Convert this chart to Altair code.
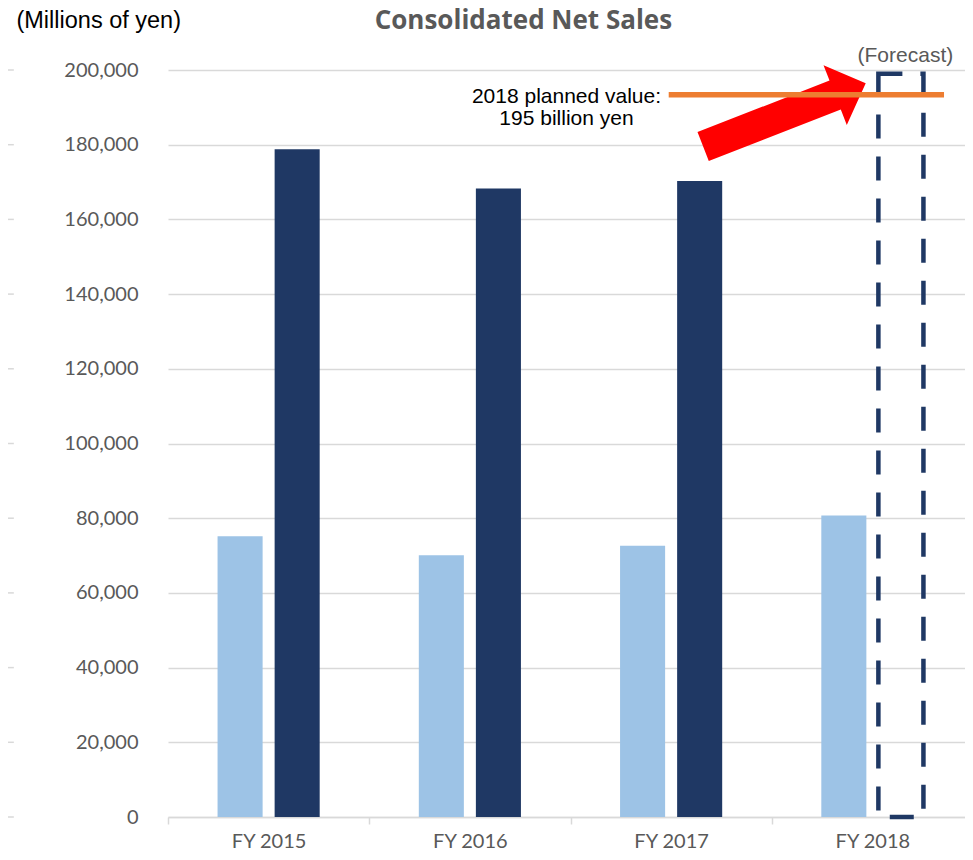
import altair as alt
import pandas as pd

# ---- data ----
years = ["FY 2015", "FY 2016", "FY 2017", "FY 2018"]
series_names = ["A", "B"]
series_a = [75200, 70100, 72600, 80700]          # light blue bars
series_b = [178800, 168300, 170300, None]         # dark navy bars
forecast_year = "FY 2018"
forecast_top = 199000                             # dashed forecast outline
planned_value = 193400                            # orange line level (2018 plan)
y_ticks = [0, 20000, 40000, 60000, 80000, 100000, 120000, 140000, 160000, 180000, 200000]

LIGHT = "#9DC3E6"
DARK = "#1F3864"
GRID = "#D9D9D9"
LABEL = "#595959"

rows = []
for i, yr in enumerate(years):
    if series_a[i] is not None:
        rows.append({"year": yr, "series": "A", "value": series_a[i]})
    if series_b[i] is not None:
        rows.append({"year": yr, "series": "B", "value": series_b[i]})
bars_df = pd.DataFrame(rows)
forecast_df = pd.DataFrame([{"year": forecast_year, "series": "B", "value": forecast_top}])

# annotation positions in "category units" across the chart (0..4)
notes_df = pd.DataFrame([
    {"u": 1.980, "v": 192700, "text": "2018 planned value:"},
    {"u": 1.980, "v": 187000, "text": "195 billion yen"},
])
forecast_lbl_df = pd.DataFrame([{"u": 3.664, "v": 203700, "text": "(Forecast)"}])
units_lbl_df = pd.DataFrame([{"u": -0.753, "v": 213100, "text": "(Millions of yen)"}])
title_df = pd.DataFrame([{"u": 1.766, "v": 213000, "text": "Consolidated Net Sales"}])
plan_df = pd.DataFrame([{"u1": 2.488, "u2": 3.856, "v": planned_value}])
arrow_df = pd.DataFrame([{"u": 3.063, "v": 188000}])
stub_df = pd.DataFrame({"v": y_ticks, "u1": [-0.796] * len(y_ticks), "u2": [-0.766] * len(y_ticks)})

W, H = 797, 747          # drawn plot area (page keeps 8px margins)
SPAN = 805               # full category span of the reference (runs to the page edge)
yscale = alt.Scale(domain=[0, 200000], nice=False, zero=True)
xband = alt.Scale(domain=years, paddingInner=0, paddingOuter=0, range=[0, SPAN])
xoff = alt.Scale(domain=series_names, paddingInner=0.2105, paddingOuter=0.8684)
uscale = alt.Scale(domain=[0, 4], nice=False, zero=False, range=[0, SPAN])

x_axis = alt.Axis(
    title=None, domainColor=GRID, domainWidth=1.5, tickColor=GRID, tickWidth=1.5,
    tickSize=7, tickBand="extent", labelPadding=23, labelBaseline="alphabetic",
    labelFont="Lato", labelFontSize=20, labelColor=LABEL, grid=False, labelAngle=0,
)
y_axis = alt.Axis(
    title=None, values=y_ticks, format=",.0f", domain=False, ticks=False, labelPadding=30,
    labelFont="Lato", labelFontSize=20, labelColor=LABEL, grid=True, gridColor=GRID,
    gridWidth=1.5,
)


def Y(field):
    return alt.Y(field, scale=yscale, axis=y_axis)


def U(field):
    return alt.X(field, scale=uscale, axis=None)


bars = alt.Chart(bars_df).mark_bar().encode(
    x=alt.X("year:N", scale=xband, axis=x_axis, sort=years),
    xOffset=alt.XOffset("series:N", scale=xoff),
    y=Y("value:Q"),
    color=alt.Color("series:N", scale=alt.Scale(domain=series_names, range=[LIGHT, DARK]), legend=None),
)

forecast = alt.Chart(forecast_df).mark_bar(
    fill=None, filled=False, stroke=DARK, strokeWidth=4.5, strokeDash=[24, 18]
).encode(
    x=alt.X("year:N", scale=xband, axis=x_axis, sort=years),
    xOffset=alt.XOffset("series:N", scale=xoff),
    y=Y("value:Q"),
)

stubs = alt.Chart(stub_df).mark_rule(color=GRID, strokeWidth=1.5).encode(
    x=U("u1:Q"), x2="u2:Q", y=Y("v:Q"),
)

arrow_path = "M -1 -0.178 L 0.624 -0.178 L 0.624 -0.367 L 1 0 L 0.624 0.367 L 0.624 0.178 L -1 0.178 Z"
arrow = alt.Chart(arrow_df).mark_point(
    shape=arrow_path, filled=True, fill="#FF0000", size=30450, angle=338.7, opacity=1, strokeWidth=0,
).encode(x=U("u:Q"), y=Y("v:Q"))

plan = alt.Chart(plan_df).mark_rule(color="#ED7D31", strokeWidth=5.5).encode(
    x=U("u1:Q"), x2="u2:Q", y=Y("v:Q"),
)

notes = alt.Chart(notes_df).mark_text(
    font="Liberation Sans", fontSize=21, color="#000000", align="center", baseline="middle",
).encode(x=U("u:Q"), y=Y("v:Q"), text="text:N")

forecast_lbl = alt.Chart(forecast_lbl_df).mark_text(
    font="Liberation Sans", fontSize=21, color=LABEL, align="center", baseline="middle",
).encode(x=U("u:Q"), y=Y("v:Q"), text="text:N")

units_lbl = alt.Chart(units_lbl_df).mark_text(
    font="Liberation Sans", fontSize=23.5, color="#000000", align="left", baseline="middle",
).encode(x=U("u:Q"), y=Y("v:Q"), text="text:N")

title_lbl = alt.Chart(title_df).mark_text(
    font="Open Sans", fontSize=26, fontWeight="bold", color=LABEL, align="center", baseline="middle",
).encode(x=U("u:Q"), y=Y("v:Q"), text="text:N")

main = alt.layer(bars, forecast)
annot = alt.layer(stubs, arrow, plan, notes, forecast_lbl, units_lbl, title_lbl)

chart = alt.layer(main, annot).resolve_scale(x="independent").properties(
    width=W, height=H,
    autosize=alt.AutoSizeParams(type="none"),
    padding={"left": 160, "right": 0, "top": 62, "bottom": 35},
).configure_view(strokeWidth=0)

chart.save("out.html", embed_options={"renderer": "svg", "actions": False})
